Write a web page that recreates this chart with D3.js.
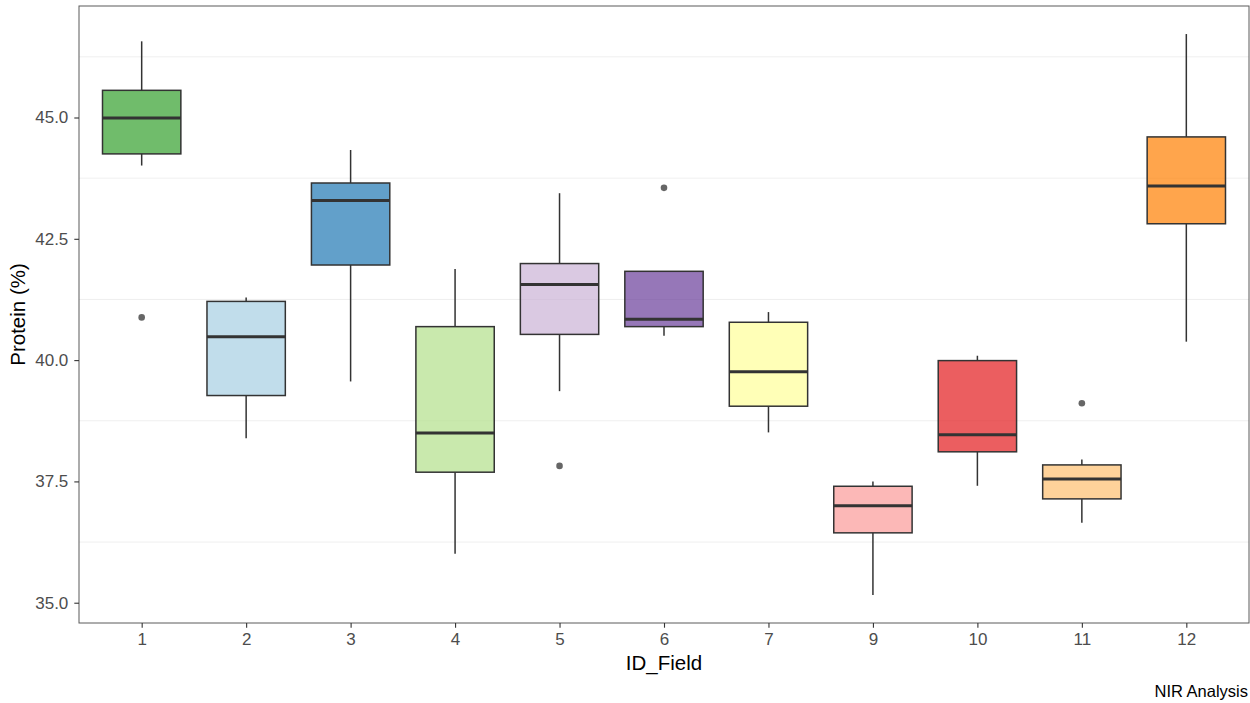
<!DOCTYPE html>
<html>
<head>
<meta charset="utf-8">
<script src="https://cdn.jsdelivr.net/npm/d3@7"></script>
<style>
    body { margin: 0; background: #fff; }
    svg { font-family: "Liberation Sans", Arial, sans-serif; }
</style>
</head>
<body>
<svg id="chart" width="1250" height="703"></svg>
<script>

var margin = { top: 6, right: 1, bottom: 80, left: 79 }
    , width = 1250 - margin.left - margin.right
    , height = 703 - margin.top - margin.bottom;

// box stats per field
var fields = ["1", "2", "3", "4", "5", "6", "7", "9", "10", "11", "12"];
var whiskerLow = [44.01, 38.39, 39.56, 36.01, 39.36, 40.50, 38.51, 35.16, 37.41, 36.65, 40.38];
var q1 = [44.25, 39.27, 41.96, 37.69, 40.53, 40.69, 39.05, 36.44, 38.11, 37.14, 42.81];
var median = [44.99, 40.48, 43.29, 38.50, 41.56, 40.84, 39.76, 37.00, 38.46, 37.55, 43.59];
var q3 = [45.56, 41.21, 43.65, 40.69, 41.99, 41.83, 40.78, 37.40, 39.99, 37.84, 44.60];
var whiskerHigh = [46.57, 41.29, 44.33, 41.88, 43.44, 41.83, 40.99, 37.50, 40.09, 37.95, 46.72];
var outlierField = ["1", "5", "6", "11"];
var outlierValue = [40.88, 37.82, 43.55, 39.11];

var fillColors = ["#33A02C", "#A6CEE3", "#1F78B4", "#B2DF8A", "#CAB2D6", "#6A3D9A",
    "#FFFF99", "#FB9A99", "#E31A1C", "#FDBF6F", "#FF7F00"];

var yTicks = [35.0, 37.5, 40.0, 42.5, 45.0];
var yMinor = [36.25, 38.75, 41.25, 43.75, 46.25];

var boxes = fields.map(function (f, i) {
    return { field: f, lo: whiskerLow[i], q1: q1[i], med: median[i], q3: q3[i], hi: whiskerHigh[i], color: fillColors[i] };
});
var outliers = outlierField.map(function (f, i) { return { field: f, value: outlierValue[i] }; });

// ggplot-style 5% expansion
var allVals = whiskerLow.concat(whiskerHigh, outlierValue);
var vMin = d3.min(allVals), vMax = d3.max(allVals), pad = (vMax - vMin) * 0.05;

var y = d3.scaleLinear()
    .domain([vMin - pad, vMax + pad])
    .range([height, 0]);

var x = d3.scalePoint()
    .domain(fields)
    .range([0, width])
    .padding(0.6);

var boxW = x.step() * 0.75;

var svg = d3.select("#chart")
    .append("g")
    .attr("transform", "translate(" + margin.left + "," + margin.top + ")");

// minor grid only
svg.append("g")
    .selectAll("line")
    .data(yMinor)
    .enter()
    .append("line")
    .attr("x1", 0)
    .attr("x2", width)
    .attr("y1", function (d) { return y(d); })
    .attr("y2", function (d) { return y(d); })
    .attr("stroke", "#EBEBEB")
    .attr("stroke-width", 0.8);

var g = svg.append("g")
    .selectAll("g")
    .data(boxes)
    .enter()
    .append("g");

// whiskers
g.append("line")
    .attr("x1", function (d) { return x(d.field); })
    .attr("x2", function (d) { return x(d.field); })
    .attr("y1", function (d) { return y(d.hi); })
    .attr("y2", function (d) { return y(d.q3); })
    .attr("stroke", "#333333")
    .attr("stroke-width", 1.5);

g.append("line")
    .attr("x1", function (d) { return x(d.field); })
    .attr("x2", function (d) { return x(d.field); })
    .attr("y1", function (d) { return y(d.q1); })
    .attr("y2", function (d) { return y(d.lo); })
    .attr("stroke", "#333333")
    .attr("stroke-width", 1.5);

g.append("rect")
    .attr("x", function (d) { return x(d.field) - boxW / 2; })
    .attr("width", boxW)
    .attr("y", function (d) { return y(d.q3); })
    .attr("height", function (d) { return y(d.q1) - y(d.q3); })
    .attr("fill", function (d) { return d.color; })
    .attr("fill-opacity", 0.7)
    .attr("stroke", "#333333")
    .attr("stroke-width", 1.5);

g.append("line")
    .attr("x1", function (d) { return x(d.field) - boxW / 2; })
    .attr("x2", function (d) { return x(d.field) + boxW / 2; })
    .attr("y1", function (d) { return y(d.med); })
    .attr("y2", function (d) { return y(d.med); })
    .attr("stroke", "#333333")
    .attr("stroke-width", 3);

svg.append("g")
    .selectAll("circle")
    .data(outliers)
    .enter()
    .append("circle")
    .attr("cx", function (d) { return x(d.field); })
    .attr("cy", function (d) { return y(d.value); })
    .attr("r", 3.3)
    .attr("fill", "#333333")
    .attr("fill-opacity", 0.75);

// panel border
svg.append("rect")
    .attr("width", width)
    .attr("height", height)
    .attr("fill", "none")
    .attr("stroke", "#5a5a5a")
    .attr("stroke-width", 1);

// axes
var xAxis = svg.append("g")
    .attr("transform", "translate(0," + height + ")")
    .call(d3.axisBottom(x).tickSize(4.7).tickPadding(5.6));

var yAxis = svg.append("g")
    .call(d3.axisLeft(y).tickValues(yTicks).tickFormat(d3.format(".1f")).tickSize(4.7).tickPadding(6));

[xAxis, yAxis].forEach(function (a) {
    a.select(".domain").remove();
    a.selectAll(".tick line").attr("stroke", "#333333").attr("stroke-width", 1.1);
    a.selectAll(".tick text")
        .attr("fill", "#4D4D4D")
        .style("font-size", "17px")
        .style("font-family", "'Liberation Sans', Arial, sans-serif");
});

// titles
var root = d3.select("#chart");
root.append("text")
    .attr("x", margin.left + width / 2)
    .attr("y", 670)
    .attr("text-anchor", "middle")
    .style("font-size", "20.5px")
    .text("ID_Field");

root.append("text")
    .attr("transform", "translate(25," + (margin.top + height / 2) + ") rotate(-90)")
    .attr("text-anchor", "middle")
    .style("font-size", "20.5px")
    .text("Protein (%)");

root.append("text")
    .attr("x", 1248)
    .attr("y", 697)
    .attr("text-anchor", "end")
    .style("font-size", "16.5px")
    .text("NIR Analysis");

</script>
</body>
</html>
